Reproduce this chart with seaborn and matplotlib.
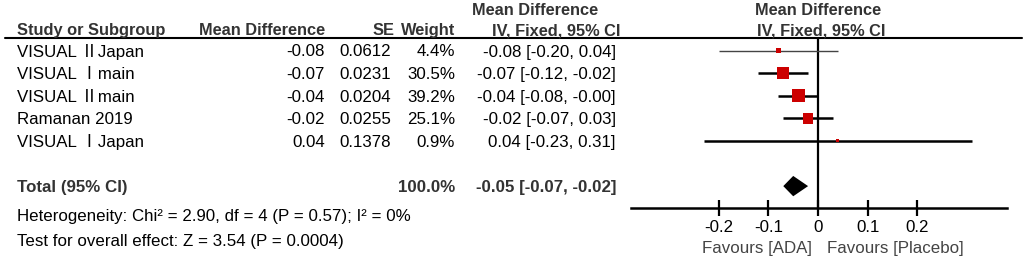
import matplotlib
matplotlib.use("Agg")
import matplotlib.pyplot as plt
from matplotlib.transforms import blended_transform_factory, offset_copy
import seaborn as sns
import pandas as pd

# study level data
studies = ["VISUAL ⅡJapan", "VISUAL Ⅰmain", "VISUAL Ⅱmain", "Ramanan 2019", "VISUAL ⅠJapan"]
mean_diff = [-0.08, -0.07, -0.04, -0.02, 0.04]
se = [0.0612, 0.0231, 0.0204, 0.0255, 0.1378]
weight = [4.4, 30.5, 39.2, 25.1, 0.9]
ci_low = [-0.20, -0.12, -0.08, -0.07, -0.23]
ci_high = [0.04, -0.02, -0.001, 0.03, 0.31]

# pooled result
total_md = -0.05
total_low = -0.07
total_high = -0.02
total_weight = 100.0
heterogeneity = "Heterogeneity: Chi² = 2.90, df = 4 (P = 0.57); I² = 0%"
overall_test = "Test for overall effect: Z = 3.54 (P = 0.0004)"

xticks = [-0.2, -0.1, 0, 0.1, 0.2]
xtick_labels = ["-0.2", "-0.1", "0", "0.1", "0.2"]
favours_left = "Favours [ADA]"
favours_right = "Favours [Placebo]"

df = pd.DataFrame({"study": studies, "md": mean_diff, "se": se, "weight": weight,
                   "lo": ci_low, "hi": ci_high})
df["row"] = range(len(df))
total_row = len(df) + 1

sns.set_theme(style="white")
plt.rcParams["font.family"] = ["Liberation Sans", "Noto Sans CJK SC", "DejaVu Sans"]
FS = 12.2
HEAD = "#333333"
RED = "#cc0000"
CAP = 6  # half cap height in px, used to centre text on the caps

W, H = 1024, 257
fig = plt.figure(figsize=(W / 100, H / 100), dpi=100)

# full figure axes in pixel units for the table text
tax = fig.add_axes([0, 0, 1, 1])
tax.set_xlim(0, W)
tax.set_ylim(H, 0)
tax.axis("off")

# forest plot axes
x0, x1, ytop, ybot = 631, 1007, 38, 208
ax = fig.add_axes([x0 / W, 1 - ybot / H, (x1 - x0) / W, (ybot - ytop) / H])
row_px0, row_step = 50.5, 22.6
ax.set_xlim(-0.377, 0.381)
ax.set_ylim((ybot - row_px0) / row_step, (ytop - row_px0) / row_step)
ax.patch.set_alpha(0)

# confidence intervals
for i, r in df.iterrows():
    lw = 1.0 if i == 0 else 1.8
    col = "#444444" if i == 0 else "black"
    ax.hlines(r["row"], r["lo"], r["hi"], color=col, lw=lw, zorder=2)

sns.scatterplot(data=df, x="md", y="row", size="weight", sizes=(2, 92),
                size_norm=(0, 39.2), marker="s", color=RED, linewidth=0,
                legend=False, zorder=3, ax=ax)

# pooled diamond
dh = 0.45
ax.fill([total_low, total_md, total_high, total_md],
        [total_row, total_row - dh, total_row, total_row + dh],
        color="black", lw=0, zorder=3)

ax.axvline(0, color="black", lw=1.6, zorder=1)
for s in ["top", "left", "right"]:
    ax.spines[s].set_visible(False)
ax.spines["bottom"].set_linewidth(1.8)
ax.spines["bottom"].set_color("black")
ax.set_yticks([])
ax.set_xticks(xticks)
ax.set_xticklabels(xtick_labels, fontsize=FS, color="black")
ax.tick_params(axis="x", direction="inout", length=12, width=1.6, pad=3,
               colors="black", bottom=True)
ax.set_xlabel("")
ax.set_ylabel("")

bt = blended_transform_factory(ax.transData, tax.transData)
ax.text(-0.012, 247 + CAP, favours_left, transform=bt, ha="right", va="baseline",
        fontsize=FS, color="#444444")
ax.text(0.018, 247 + CAP, favours_right, transform=bt, ha="left", va="baseline",
        fontsize=FS, color="#444444")

# header
tax.plot([5, 1022], [38, 38], color="black", lw=1.5)
hk = dict(fontsize=11.8, fontweight="bold", color=HEAD, va="baseline")
tax.text(17, 29 + CAP, "Study or Subgroup", ha="left", **hk)
tax.text(325, 29 + CAP, "Mean Difference", ha="right", **hk)
tax.text(395, 29 + CAP, "SE", ha="right", **hk)
tax.text(455, 29 + CAP, "Weight", ha="right", **hk)
tax.text(535, 9 + CAP, "Mean Difference", ha="center", **hk)
tax.text(556, 29 + CAP, "IV, Fixed, 95% CI", ha="center", **hk)
tax.text(818, 9 + CAP, "Mean Difference", ha="center", **hk)
tax.text(821, 29 + CAP, "IV, Fixed, 95% CI", ha="center", **hk)

# table rows, aligned with the forest rows
rt = offset_copy(blended_transform_factory(tax.transData, ax.transData),
                 fig=fig, y=-CAP, units="dots")
for _, r in df.iterrows():
    y = r["row"]
    tk = dict(transform=rt, fontsize=FS, color="black", va="baseline")
    tax.text(17, y, r["study"], ha="left", **tk)
    tax.text(325, y, f"{r['md']:.2f}", ha="right", **tk)
    tax.text(391, y, f"{r['se']:.4f}", ha="right", **tk)
    tax.text(455, y, f"{r['weight']:.1f}%", ha="right", **tk)
    tax.text(616, y, f"{r['md']:.2f} [{r['lo']:.2f}, {r['hi']:.2f}]", ha="right", **tk)

tk = dict(transform=rt, fontsize=FS, fontweight="bold", color=HEAD, va="baseline")
tax.text(17, total_row, "Total (95% CI)", ha="left", **tk)
tax.text(455, total_row, f"{total_weight:.1f}%", ha="right", **tk)
tax.text(616, total_row, f"{total_md:.2f} [{total_low:.2f}, {total_high:.2f}]", ha="right", **tk)

tax.text(17, 215 + CAP, heterogeneity, ha="left", va="baseline", fontsize=FS, color="black")
tax.text(17, 240 + CAP, overall_test, ha="left", va="baseline", fontsize=FS, color="black")

fig.savefig("out.png", dpi=100)
